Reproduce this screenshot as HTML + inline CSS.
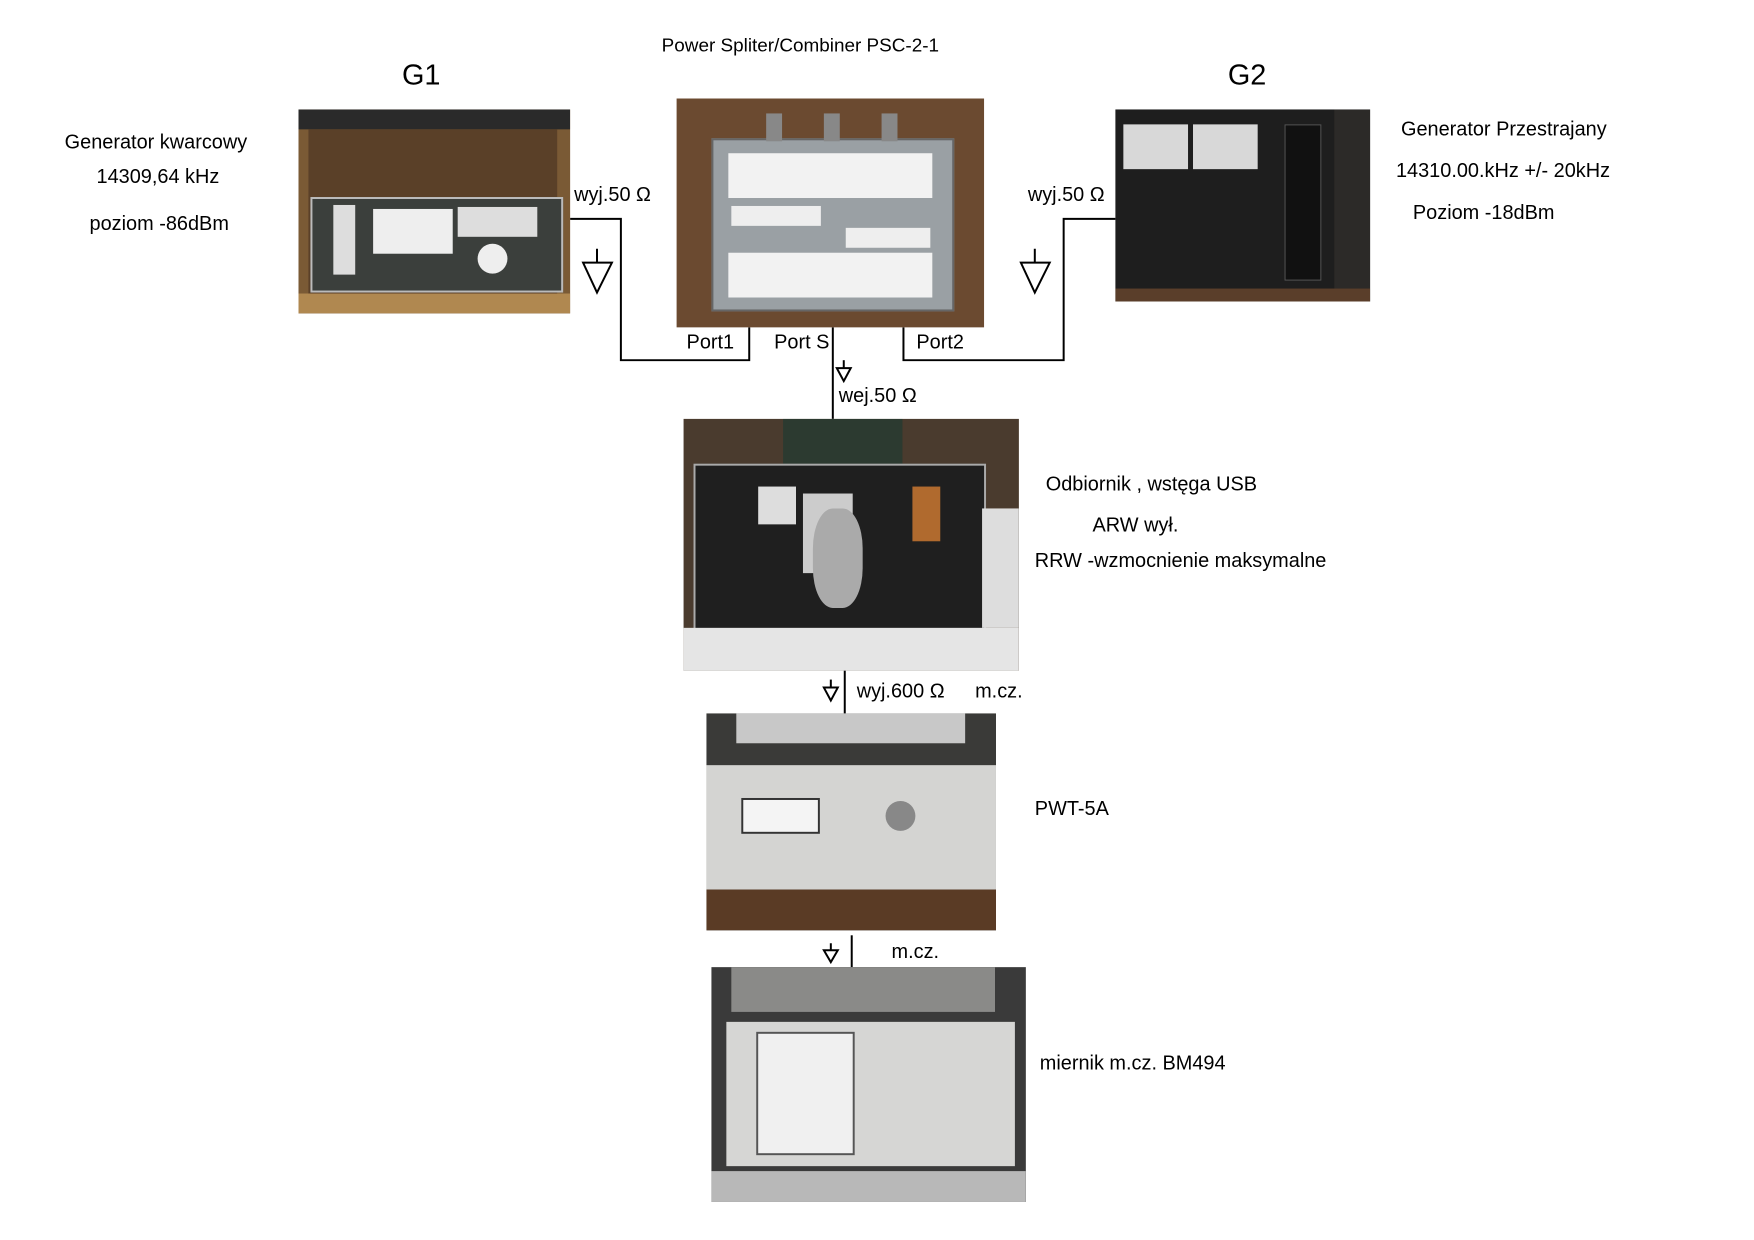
<!DOCTYPE html>
<html><head><meta charset="utf-8"><style>
body{margin:0;width:1754px;height:1240px;background:#fff;position:relative;overflow:hidden;font-family:"Liberation Sans",sans-serif;}
#w{position:absolute;left:0;top:0;width:1754px;height:1240px;transform:scale(0.995,0.995);transform-origin:0 0;}
.t{position:absolute;font-size:20px;color:#000;white-space:nowrap;line-height:1;}
.p{position:absolute;overflow:hidden;}
.p div{position:absolute;}
</style></head><body><div id="w">

<div class="t" style="left:665px;top:37px;font-size:19px">Power Spliter/Combiner PSC-2-1</div>
<div class="t" style="left:404px;top:62px;font-size:29px">G1</div>
<div class="t" style="left:1234px;top:62px;font-size:29px">G2</div>

<div class="t" style="left:65px;top:133px">Generator kwarcowy</div>
<div class="t" style="left:97px;top:168px">14309,64 kHz</div>
<div class="t" style="left:90px;top:215px">poziom -86dBm</div>

<div class="t" style="left:577px;top:186px">wyj.50 Ω</div>
<div class="t" style="left:1033px;top:186px">wyj.50 Ω</div>

<div class="t" style="left:1408px;top:120px">Generator Przestrajany</div>
<div class="t" style="left:1403px;top:162px">14310.00.kHz +/- 20kHz</div>
<div class="t" style="left:1420px;top:204px">Poziom -18dBm</div>

<div class="t" style="left:690px;top:334px">Port1</div>
<div class="t" style="left:778px;top:334px">Port S</div>
<div class="t" style="left:921px;top:334px">Port2</div>
<div class="t" style="left:843px;top:388px">wej.50 Ω</div>

<div class="t" style="left:1051px;top:477px">Odbiornik , wstęga USB</div>
<div class="t" style="left:1098px;top:518px">ARW wył.</div>
<div class="t" style="left:1040px;top:554px">RRW -wzmocnienie maksymalne</div>

<div class="t" style="left:861px;top:685px">wyj.600 Ω</div>
<div class="t" style="left:980px;top:685px">m.cz.</div>
<div class="t" style="left:1040px;top:803px">PWT-5A</div>
<div class="t" style="left:896px;top:947px">m.cz.</div>
<div class="t" style="left:1045px;top:1059px">miernik m.cz. BM494</div>

<svg width="1754" height="1240" style="position:absolute;left:0;top:0" fill="none" stroke="#000" stroke-width="2">
<polyline points="573,220 624,220 624,362 753,362 753,329"/>
<polyline points="1121,220 1069,220 1069,362 908,362 908,329"/>
<line x1="600" y1="250" x2="600" y2="264"/><polygon points="586,264 615,264 600,294"/>
<line x1="1040" y1="250" x2="1040" y2="264"/><polygon points="1026,264 1055,264 1040,294"/>
<line x1="837" y1="329" x2="837" y2="421"/>
<line x1="848" y1="362" x2="848" y2="370"/><polygon points="841,370 855,370 848,383"/>
<line x1="849" y1="674" x2="849" y2="717"/>
<line x1="835" y1="683" x2="835" y2="691"/><polygon points="828,691 842,691 835,704"/>
<line x1="856" y1="940" x2="856" y2="972"/>
<line x1="835" y1="948" x2="835" y2="955"/><polygon points="828,955 842,955 835,967"/>
</svg>

<div class="p" style="left:300px;top:110px;width:273px;height:205px;background:#7a5a35">
 <div style="left:0;top:0;width:273px;height:20px;background:#2a2a2a"></div>
 <div style="left:10px;top:20px;width:250px;height:165px;background:#5a4028"></div>
 <div style="left:12px;top:88px;width:250px;height:92px;background:#3b3f3c;border:2px solid #bbb"></div>
 <div style="left:35px;top:96px;width:22px;height:70px;background:#ddd"></div>
 <div style="left:75px;top:100px;width:80px;height:45px;background:#eee"></div>
 <div style="left:160px;top:98px;width:80px;height:30px;background:#ddd"></div>
 <div style="left:180px;top:135px;width:30px;height:30px;border-radius:50%;background:#eee"></div>
 <div style="left:0;top:185px;width:273px;height:20px;background:#b08850"></div>
</div>

<div class="p" style="left:680px;top:99px;width:309px;height:230px;background:#6b4a30">
 <div style="left:35px;top:40px;width:240px;height:170px;background:#9aa0a4;border:2px solid #666"></div>
 <div style="left:52px;top:55px;width:205px;height:45px;background:#f2f2f2"></div>
 <div style="left:55px;top:108px;width:90px;height:20px;background:#eee"></div>
 <div style="left:170px;top:130px;width:85px;height:20px;background:#eee"></div>
 <div style="left:52px;top:155px;width:205px;height:45px;background:#f2f2f2"></div>
 <div style="left:90px;top:15px;width:16px;height:28px;background:#888"></div>
 <div style="left:148px;top:15px;width:16px;height:28px;background:#888"></div>
 <div style="left:206px;top:15px;width:16px;height:28px;background:#888"></div>
</div>

<div class="p" style="left:1121px;top:110px;width:256px;height:193px;background:#1e1e1e">
 <div style="left:8px;top:15px;width:65px;height:45px;background:#d8d8d8"></div>
 <div style="left:78px;top:15px;width:65px;height:45px;background:#d8d8d8"></div>
 <div style="left:170px;top:15px;width:35px;height:155px;background:#111;border:1px solid #555"></div>
 <div style="left:220px;top:0;width:36px;height:193px;background:#2c2a28"></div>
 <div style="left:0;top:180px;width:256px;height:13px;background:#5a3e2a"></div>
</div>

<div class="p" style="left:687px;top:421px;width:337px;height:253px;background:#4a3b2e">
 <div style="left:100px;top:0;width:120px;height:45px;background:#2c3a30"></div>
 <div style="left:10px;top:45px;width:290px;height:165px;background:#1f1f1f;border:2px solid #aaa"></div>
 <div style="left:75px;top:68px;width:38px;height:38px;background:#ddd"></div>
 <div style="left:120px;top:75px;width:50px;height:80px;background:#ccc"></div>
 <div style="left:130px;top:90px;width:50px;height:100px;border-radius:40%;background:#aaa"></div>
 <div style="left:230px;top:68px;width:28px;height:55px;background:#b06a2e"></div>
 <div style="left:0;top:210px;width:337px;height:43px;background:#e5e5e5"></div>
 <div style="left:300px;top:90px;width:37px;height:120px;background:#ddd"></div>
</div>

<div class="p" style="left:710px;top:717px;width:291px;height:218px;background:#3a3a38">
 <div style="left:30px;top:0;width:230px;height:30px;background:#c8c8c8"></div>
 <div style="left:0;top:52px;width:291px;height:125px;background:#d4d4d2"></div>
 <div style="left:35px;top:85px;width:75px;height:32px;background:#f4f4f4;border:2px solid #333"></div>
 <div style="left:180px;top:88px;width:30px;height:30px;border-radius:50%;background:#888"></div>
 <div style="left:0;top:177px;width:291px;height:41px;background:#5a3b25"></div>
</div>

<div class="p" style="left:715px;top:972px;width:316px;height:236px;background:#3a3a3a">
 <div style="left:20px;top:0;width:265px;height:45px;background:#8a8a88"></div>
 <div style="left:15px;top:55px;width:290px;height:145px;background:#d6d6d4"></div>
 <div style="left:45px;top:65px;width:95px;height:120px;background:#f0f0f0;border:2px solid #555"></div>
 <div style="left:0;top:205px;width:316px;height:31px;background:#b8b8b8"></div>
</div>

</div></body></html>
